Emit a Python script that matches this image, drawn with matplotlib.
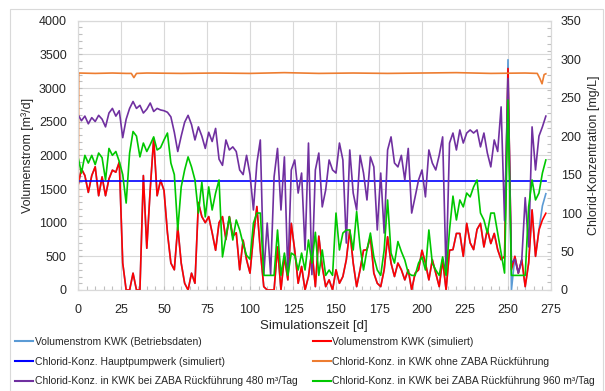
import numpy as np
import matplotlib
matplotlib.use('Agg')
import matplotlib.pyplot as plt
from matplotlib.ticker import MultipleLocator
from matplotlib.lines import Line2D
from matplotlib.patches import Rectangle

plt.rcParams['font.family'] = ['Liberation Sans', 'DejaVu Sans']

# ---------------- data ----------------
days = np.arange(0, 273, 2)  # simulation day grid (every 2nd day)

# Volumenstrom KWK (simuliert) [m3/d]
vol_sim = [
    1550, 1800, 1700, 1450, 1700, 1830, 1400, 1680, 1400, 1650,
    1780, 1750, 1900, 400, 0, 0, 250, 0, 0, 1700,
    620, 1500, 2250, 1400, 1630, 1480, 850, 400, 300, 940,
    400, 100, 0, 250, 100, 1300, 1090, 1000, 1090, 850,
    590, 1000, 1090, 750, 1090, 800, 850, 300, 740, 450,
    250, 800, 1240, 590, 50, 0, 0, 0, 640, 0,
    500, 150, 990, 590, 100, 350, 0, 200, 590, 50,
    800, 350, 50, 150, 0, 300, 100, 200, 450, 890,
    400, 50, 300, 590, 600, 790, 250, 100, 50, 300,
    790, 400, 200, 400, 300, 150, 300, 0, 250, 300,
    590, 400, 150, 450, 250, 50, 450, 0, 590, 600,
    840, 840, 500, 990, 700, 600, 900, 990, 640, 900,
    690, 840, 600, 450, 500, 3290, 300, 500, 250, 450,
    50, 400, 1190, 500, 890, 1040, 1140,
]

# Volumenstrom KWK (Betriebsdaten): equal to the simulation except these days
vol_betrieb_diff = {250: 3420, 252: 0, 270: 1250, 272: 1430}

# Chlorid-Konz. Hauptpumpwerk (simuliert) [mg/L]
hpw_days = [0, 272]
hpw_conc = [142, 142]

# Chlorid-Konz. in KWK ohne ZABA Rueckfuehrung [mg/L]
ohne_days = [0, 0.4, 10, 20, 28, 31, 32.5, 34, 40, 60, 80, 100, 120, 140,
             160, 180, 200, 220, 240, 260, 267, 268.5, 269.8, 271, 272]
ohne_conc = [0, 282, 281.5, 282, 281.5, 281.5, 276, 281.5, 282, 281.5, 282,
             281.5, 282.5, 281.5, 282, 281.5, 282, 282.5, 281.5, 282, 281.5,
             275, 268, 280, 281]

# Chlorid-Konz. in KWK bei ZABA Rueckfuehrung 480 m3/Tag [mg/L]
conc_480 = [
    228, 220, 226, 216, 224, 219, 227, 222, 212, 230,
    236, 226, 233, 198, 222, 236, 245, 236, 240, 230,
    235, 243, 232, 236, 234, 233, 231, 225, 205, 180,
    200, 218, 227, 215, 195, 212, 200, 184, 205, 193,
    210, 170, 162, 195, 182, 186, 180, 156, 150, 175,
    150, 104, 165, 195, 20, 87, 20, 147, 184, 104,
    173, 20, 156, 169, 126, 152, 52, 191, 20, 156,
    178, 108, 130, 169, 156, 152, 191, 169, 61, 182,
    126, 104, 175, 152, 117, 173, 160, 78, 152, 74,
    182, 199, 165, 160, 175, 143, 184, 100, 121, 143,
    156, 121, 182, 165, 156, 175, 199, 20, 191, 204,
    182, 208, 191, 204, 208, 204, 208, 186, 204, 178,
    160, 195, 180, 238, 90, 275, 35, 40, 22, 39,
    120, 56, 212, 156, 200, 212, 226,
]

# Chlorid-Konz. in KWK bei ZABA Rueckfuehrung 960 m3/Tag [mg/L]
conc_960 = [
    173, 152, 175, 165, 175, 163, 178, 172, 143, 184,
    175, 180, 167, 150, 113, 178, 206, 200, 173, 191,
    180, 189, 199, 182, 185, 195, 204, 165, 150, 78,
    134, 156, 173, 160, 143, 100, 140, 95, 134, 104,
    126, 143, 43, 69, 95, 65, 91, 78, 60, 45,
    40, 87, 100, 100, 19, 19, 19, 19, 78, 19,
    48, 19, 48, 45, 26, 48, 26, 65, 35, 75,
    19, 52, 19, 26, 19, 100, 52, 74, 78, 78,
    52, 102, 56, 26, 52, 74, 43, 26, 19, 52,
    117, 48, 35, 63, 50, 39, 22, 19, 19, 35,
    43, 26, 78, 35, 26, 19, 43, 19, 78, 122,
    91, 117, 108, 126, 121, 134, 143, 100, 91, 74,
    100, 100, 74, 48, 22, 247, 19, 19, 19, 19,
    19, 108, 143, 117, 126, 152, 169,
]

vol_betrieb = [vol_betrieb_diff.get(int(d), v) for d, v in zip(days, vol_sim)]

labels = [
    'Volumenstrom KWK (Betriebsdaten)',
    'Volumenstrom KWK (simuliert)',
    'Chlorid-Konz. Hauptpumpwerk (simuliert)',
    'Chlorid-Konz. in KWK ohne ZABA Rückführung',
    'Chlorid-Konz. in KWK bei ZABA Rückführung 480 m³/Tag',
    'Chlorid-Konz. in KWK bei ZABA Rückführung 960 m³/Tag',
]
colors = ['#5b9bd5', '#ff0000', '#0000ff', '#ed7d31', '#7030a0', '#00c800']

# ---------------- figure ----------------
W, H = 605, 391
fig = plt.figure(figsize=(W / 100, H / 100), dpi=100)
fig.patch.set_facecolor('white')
fig.add_artist(Rectangle((10 / W, 0.5 / H), (603 - 10) / W, (391 - 9.5) / H,
                         transform=fig.transFigure, fill=False,
                         edgecolor='#d9d9d9', linewidth=0.8))

L, R, T, B = 78, 551, 20.7, 290
ax = fig.add_axes([L / W, 1 - B / H, (R - L) / W, (B - T) / H])
ax2 = ax.twinx()

lw = 1.2
ax.plot(days, vol_betrieb, color=colors[0], lw=lw, zorder=2)
ax.plot(days, vol_sim, color=colors[1], lw=lw, zorder=3)
ax2.plot(hpw_days, hpw_conc, color=colors[2], lw=lw)
ax2.plot(ohne_days, ohne_conc, color=colors[3], lw=lw)
ax2.plot(days, conc_480, color=colors[4], lw=lw)
ax2.plot(days, conc_960, color=colors[5], lw=lw)

ax.set_xlim(0, 275)
ax.set_ylim(0, 4000)
ax2.set_ylim(0, 350)

grid_c = '#d9d9d9'
ax.xaxis.set_major_locator(MultipleLocator(25))
ax.xaxis.set_minor_locator(MultipleLocator(5))
ax.yaxis.set_major_locator(MultipleLocator(500))
ax.yaxis.set_minor_locator(MultipleLocator(100))
ax2.yaxis.set_major_locator(MultipleLocator(50))
ax2.yaxis.set_minor_locator(MultipleLocator(10))
ax.grid(True, which='major', color=grid_c, lw=0.8)
ax.set_axisbelow(True)

for a in (ax, ax2):
    for s in a.spines.values():
        s.set_color(grid_c)
        s.set_linewidth(0.8)
    a.tick_params(which='both', direction='in', color='#bfbfbf', length=3,
                  width=0.8, labelsize=9, labelcolor='#262626')

ax.tick_params(axis='y', pad=8)
ax.tick_params(axis='x', pad=10)
ax2.tick_params(axis='y', pad=7)

fig.text(28 / W, 1 - 155 / H, 'Volumenstrom [m³/d]', rotation=90,
         ha='center', va='center', fontsize=9, color='#262626')
fig.text(594 / W, 1 - 155 / H, 'Chlorid-Konzentration [mg/L]', rotation=90,
         ha='center', va='center', fontsize=9, color='#262626')
fig.text(314 / W, 1 - 326 / H, 'Simulationszeit [d]', ha='center',
         va='center', fontsize=9.5, color='#262626')

handles = [Line2D([], [], color=c, lw=1.5) for c in colors]
order = [0, 2, 4, 1, 3, 5]
fig.legend([handles[i] for i in order], [labels[i] for i in order],
           ncol=2, loc='upper left', bbox_to_anchor=(15 / W, 1 - 337 / H),
           frameon=False, fontsize=7.5, handlelength=1.75, handletextpad=0.15,
           columnspacing=1.45, labelspacing=0.92, borderpad=0, borderaxespad=0,
           labelcolor='#262626')

fig.savefig('out.png', dpi=100, facecolor='white')
